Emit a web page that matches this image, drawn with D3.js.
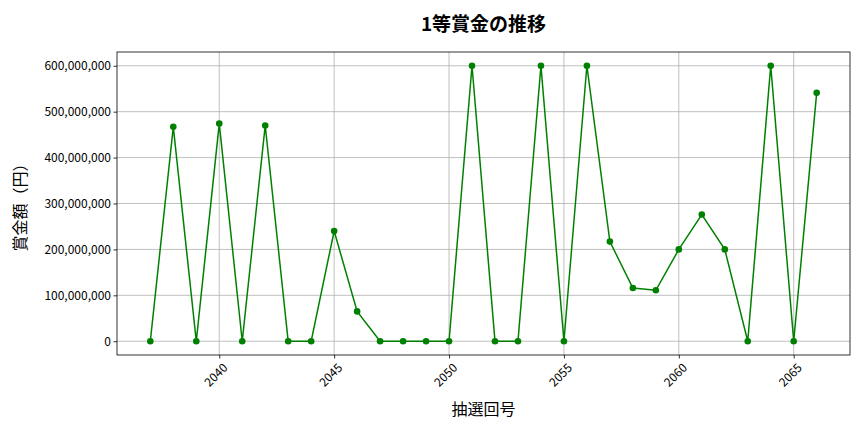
<!DOCTYPE html>
<html><head><meta charset="utf-8">
<script src="https://cdn.jsdelivr.net/npm/d3@7"></script>
<style>body{margin:0;background:#fff;}svg{display:block;font-family:"Noto Sans CJK JP","Noto Sans",sans-serif;}svg text{font-family:"Noto Sans CJK JP","Noto Sans",sans-serif;}</style>
</head><body><svg id="c" width="864" height="432"></svg>
<script>
const draws = [2037,2038,2039,2040,2041,2042,2043,2044,2045,2046,2047,2048,2049,2050,2051,2052,2053,2054,2055,2056,2057,2058,2059,2060,2061,2062,2063,2064,2065,2066];
const prizes = [0,467000000,0,474000000,0,470000000,0,0,240000000,65000000,0,0,0,0,600000000,0,0,600000000,0,600000000,217000000,116000000,111000000,200000000,276000000,200000000,0,600000000,0,541000000];
const xTicks = [2040,2045,2050,2055,2060,2065];
const yTicks = [0,100000000,200000000,300000000,400000000,500000000,600000000];
const title = "1等賞金の推移";
const xLabel = "抽選回号";
const yLabel = "賞金額（円）";

const FONT = '"Noto Sans CJK JP","Noto Sans",sans-serif';
const svg = d3.select("#c");
const L=117, R=850, T=52, B=355;
const x = d3.scaleLinear().domain([2035.55,2067.45]).range([L,R]);
const y = d3.scaleLinear().domain([-30000000,630000000]).range([B,T]);

const g = svg.append("g");
g.selectAll(".gx").data(xTicks).enter().append("line")
 .attr("x1",d=>x(d)).attr("x2",d=>x(d)).attr("y1",T).attr("y2",B)
 .attr("stroke","#b0b0b0").attr("stroke-width",0.8);
g.selectAll(".gy").data(yTicks).enter().append("line")
 .attr("y1",d=>y(d)).attr("y2",d=>y(d)).attr("x1",L).attr("x2",R)
 .attr("stroke","#b0b0b0").attr("stroke-width",0.8);

const xa = svg.append("g").attr("transform",`translate(0,${B})`)
 .call(d3.axisBottom(x).tickValues(xTicks).tickSize(3.5).tickSizeOuter(0).tickFormat(d3.format("d")));
xa.attr("font-family",FONT);
xa.selectAll("text").attr("font-size",12).attr("fill","#000")
 .attr("text-anchor","end").attr("dx",0).attr("dy",0)
 .attr("transform","translate(4,9) rotate(-45)");
const ya = svg.append("g").attr("transform",`translate(${L},0)`)
 .call(d3.axisLeft(y).tickValues(yTicks).tickSize(3.5).tickSizeOuter(0).tickFormat(d3.format(",")));
ya.attr("font-family",FONT);
ya.selectAll("text").attr("font-size",12).attr("fill","#000").attr("x",-6);
svg.selectAll(".domain").remove();
svg.selectAll(".tick line").attr("stroke","#000").attr("stroke-width",0.8);
svg.append("rect").attr("x",L).attr("y",T).attr("width",R-L).attr("height",B-T)
 .attr("fill","none").attr("stroke","#000").attr("stroke-width",0.8);

const line = d3.line().x((d,i)=>x(draws[i])).y(d=>y(d));
svg.append("path").datum(prizes).attr("d",line).attr("fill","none")
 .attr("stroke","green").attr("stroke-width",1.5);
svg.selectAll(".pt").data(prizes).enter().append("circle")
 .attr("cx",(d,i)=>x(draws[i])).attr("cy",d=>y(d)).attr("r",3.3).attr("fill","green");

svg.append("text").attr("x",(L+R)/2).attr("y",31).attr("text-anchor","middle")
 .attr("font-size",19).attr("font-weight","bold").text(title);
svg.append("text").attr("x",(L+R)/2).attr("y",415).attr("text-anchor","middle")
 .attr("font-size",16).text(xLabel);
svg.append("text").attr("transform",`translate(26,${(T+B)/2}) rotate(-90)`)
 .attr("text-anchor","middle").attr("font-size",16).text(yLabel);
</script></body></html>
